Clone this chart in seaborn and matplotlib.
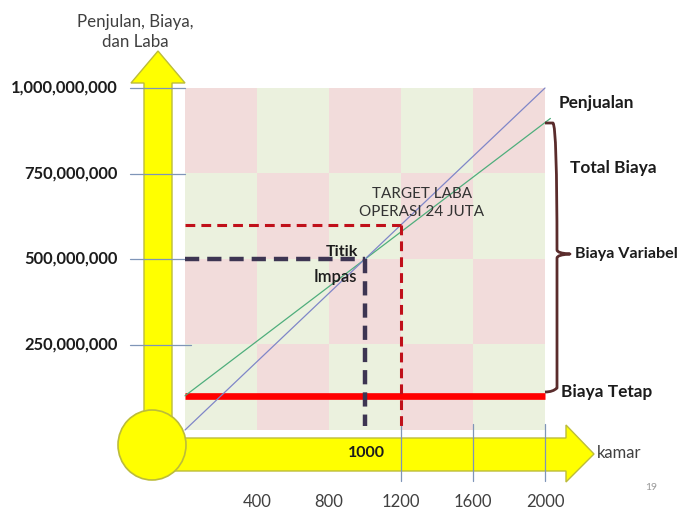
import numpy as np
import matplotlib
matplotlib.use("Agg")
import matplotlib.pyplot as plt
from matplotlib.patches import Polygon, Ellipse, PathPatch
from matplotlib.path import Path
import seaborn as sns

# ---- data -------------------------------------------------------------
rooms = [0, 2000]                          # kamar
sales = [0, 1_000_000_000]                 # Penjualan
cost_rooms = [0, 2030]
total_cost = [100_000_000, 911_000_000]    # Total Biaya
fixed_cost = 100_000_000                   # Biaya Tetap

break_even_rooms = 1000
break_even_sales = 500_000_000
target_rooms = 1200
target_sales = 600_000_000

x_ticks = [400, 800, 1200, 1600, 2000]
x_tick_labels = ["400", "800", "1200", "1600", "2000"]
y_ticks = [250_000_000, 500_000_000, 750_000_000, 1_000_000_000]
y_tick_labels = ["250,000,000", "500,000,000", "750,000,000", "1,000,000,000"]

# ---- style ------------------------------------------------------------
sns.set_theme(style="white")
plt.rcParams["font.family"] = ["Lato", "DejaVu Sans"]

W, H = 683, 513
fig = plt.figure(figsize=(W / 100, H / 100), dpi=100)
ax = fig.add_axes([0, 0, 1, 1])

# plot region on the canvas (pixels) -> data scale
X0, X1 = 185, 545          # 0 .. 2000 rooms
Y0, Y1 = 430, 88           # 0 .. 1e9
sx = (X1 - X0) / 2000
sy = (Y0 - Y1) / 1e9


def px(x):
    return (x - X0) / sx


def py(y):
    return (Y0 - y) / sy


ax.set_xlim(px(0), px(W))
ax.set_ylim(py(H), py(0))
ax.axis("off")

# ---- checkerboard background ------------------------------------------
pink = np.array([242, 220, 219]) / 255
green = np.array([235, 241, 222]) / 255
board = np.zeros((4, 5, 3))
for r in range(4):
    for c in range(5):
        board[r, c] = pink if (r + c) % 2 == 0 else green
ax.imshow(board, extent=(0, 2000, 0, 1e9), aspect="auto",
          interpolation="nearest", zorder=0)

# ---- yellow axis arrows -----------------------------------------------
yellow = "#ffff00"
edge = "#bcbc3a"
v_arrow = [(px(144), py(445)), (px(144), py(83)), (px(131), py(83)),
           (px(158), py(51)), (px(185), py(83)), (px(172), py(83)),
           (px(172), py(445))]
ax.add_patch(Polygon(v_arrow, closed=True, fc=yellow, ec=edge, lw=1, zorder=2))
h_arrow = [(px(150), py(438)), (px(566), py(438)), (px(566), py(425)),
           (px(594), py(454)), (px(566), py(482)), (px(566), py(471)),
           (px(150), py(471))]
ax.add_patch(Polygon(h_arrow, closed=True, fc=yellow, ec=edge, lw=1, zorder=2))
ax.add_patch(Ellipse((px(152), py(445)), width=68 / sx, height=70 / sy,
                     fc=yellow, ec=edge, lw=1.2, zorder=3))

# ---- tick guide lines ---------------------------------------------------
tick_col = "#7f95b8"
for yv in y_ticks:
    right = px(191) if yv == y_ticks[0] else 0
    ax.plot([px(130), right], [yv, yv], color=tick_col, lw=0.9, zorder=4)
for xv in x_ticks[2:]:
    ax.plot([xv, xv], [py(424), py(481)], color=tick_col, lw=0.9, zorder=4)

# ---- cost / revenue lines ---------------------------------------------
sns.lineplot(x=[0, 2000], y=[fixed_cost, fixed_cost], ax=ax, color="#ff0000",
             lw=4.8, zorder=5, legend=False, solid_capstyle="butt")
sns.lineplot(x=cost_rooms, y=total_cost, ax=ax, color="#4fae7c", lw=0.9,
             zorder=6, legend=False)
sns.lineplot(x=rooms, y=sales, ax=ax, color="#7f86c8", lw=0.9, zorder=6,
             legend=False)

# break-even guides
be_col = "#3d3552"
ax.plot([0, break_even_rooms], [break_even_sales, break_even_sales],
        color=be_col, lw=3.2, dashes=(3.2, 1.8), zorder=7)
ax.plot([break_even_rooms, break_even_rooms], [break_even_sales, py(426)],
        color=be_col, lw=3.2, dashes=(3.2, 1.8), zorder=7)
# target profit guides
tg_col = "#c0101a"
ax.plot([0, target_rooms], [target_sales, target_sales],
        color=tg_col, lw=2.2, dashes=(3.2, 2.0), zorder=7)
ax.plot([target_rooms, target_rooms], [target_sales, py(428)],
        color=tg_col, lw=2.2, dashes=(3.2, 2.0), zorder=7)

# ---- brace on the right -----------------------------------------------
bx, bxm, tip = px(557), px(553), px(570)
top, mid, bot = py(123), py(254), py(392)
r = 4 / sy
verts = [(px(545), top), (bxm, top), (bx, top - r), (bx, mid + r),
         (bx, mid + r * 0.2), (tip, mid), (bx, mid - r * 0.2), (bx, mid - r),
         (bx, bot + r), (bxm, bot), (px(545), bot)]
codes = [Path.MOVETO, Path.LINETO, Path.CURVE3, Path.LINETO,
         Path.CURVE3, Path.CURVE3, Path.CURVE3, Path.CURVE3,
         Path.LINETO, Path.CURVE3, Path.CURVE3]
ax.add_patch(PathPatch(Path(verts, codes), fc="none", ec="#5a2c2c", lw=2.0,
                       zorder=6, capstyle="butt", joinstyle="round"))

# ---- text ---------------------------------------------------------------
dark = "#1c1c1c"
grey = "#404040"
for yv, lab in zip(y_ticks, y_tick_labels):
    ax.text(px(118), yv, lab, ha="right", va="center", fontsize=11.9,
            fontweight="bold", color=dark, zorder=8)
for xv, lab in zip(x_ticks, x_tick_labels):
    ax.text(xv, py(502), lab, ha="center", va="center", fontsize=12,
            color=grey, zorder=8)

ax.text(px(135), py(32), "Penjulan, Biaya,\ndan Laba", ha="center",
        va="center", fontsize=12.2, color=grey, linespacing=1.35)
ax.text(px(597), py(453), "kamar", ha="left", va="center", fontsize=12,
        color=grey)
ax.text(px(645), py(487), "19", ha="left", va="center", fontsize=7.5,
        color="#9a9a9a")

ax.text(break_even_rooms + 8, py(453), "1000", ha="center", va="center",
        fontsize=11.5, fontweight="bold", color=dark, zorder=8)
ax.text(px(422), py(203), "TARGET LABA\nOPERASI 24 JUTA", ha="center",
        va="center", fontsize=11, color="#333333", linespacing=1.45, zorder=8)
ax.text(px(342), py(252), "Titik", ha="center", va="center", fontsize=11.5,
        fontweight="bold", color=dark, zorder=8)
ax.text(px(335), py(277), "Impas", ha="center", va="center", fontsize=12,
        fontweight="semibold", color=dark, zorder=8)

ax.text(px(559), py(103), "Penjualan", ha="left", va="center", fontsize=12.4,
        fontweight="bold", color=dark)
ax.text(px(570), py(168), "Total Biaya", ha="left", va="center",
        fontsize=12.4, fontweight="bold", color=dark)
ax.text(px(575), py(254), "Biaya Variabel", ha="left", va="center",
        fontsize=11.6, fontweight="bold", color=dark)
ax.text(px(561), py(392), "Biaya Tetap", ha="left", va="center",
        fontsize=12.4, fontweight="bold", color=dark)

fig.savefig("out.png", dpi=100, facecolor="white")
